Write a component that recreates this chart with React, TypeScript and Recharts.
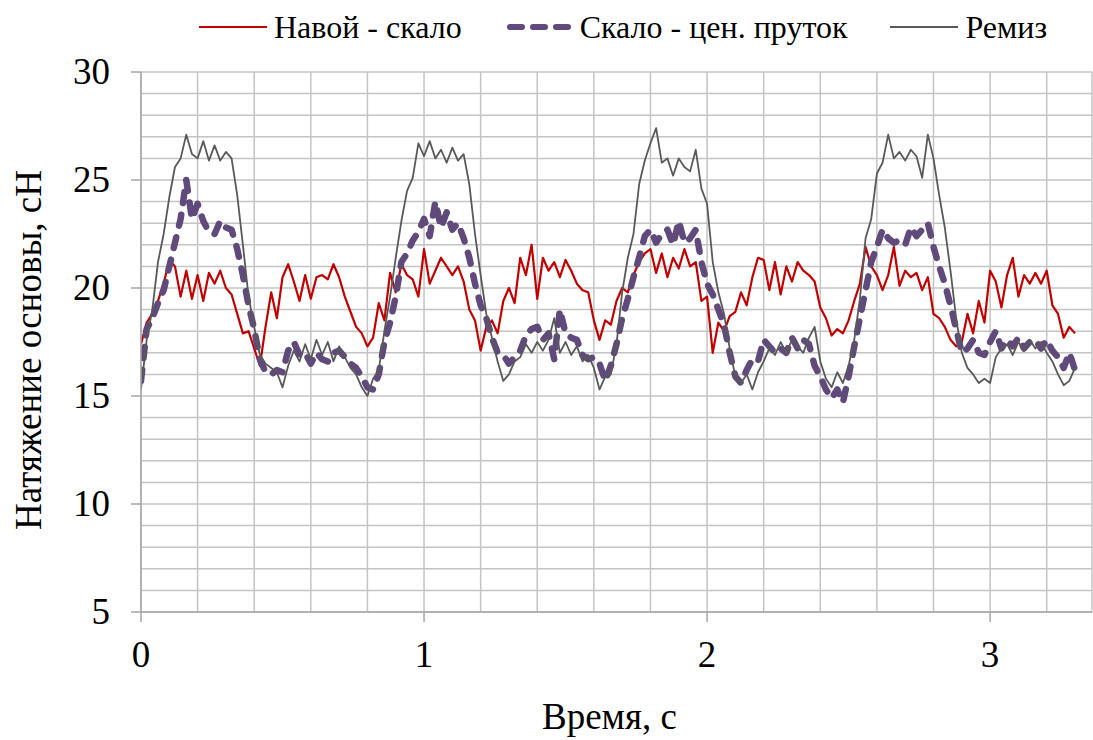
import React from 'react';
import { LineChart, Line, XAxis, YAxis, CartesianGrid } from 'recharts';

const TIME_STEP = 0.02;

const navoiSkalo = [
  17.4, 18.4, 18.8, 19.4, 20.2, 21.3, 21.0, 19.6, 20.8, 19.5,
  20.6, 19.4, 20.7, 20.2, 20.8, 20.0, 19.7, 18.8, 17.9, 18.0,
  17.2, 16.4, 18.2, 19.8, 18.6, 20.5, 21.1, 20.3, 19.4, 20.6,
  19.5, 20.5, 20.6, 20.4, 21.1, 20.5, 19.6, 18.9, 18.2, 17.9,
  17.3, 17.7, 19.3, 18.5, 20.7, 19.8, 21.1, 20.6, 20.4, 19.6,
  21.8, 20.2, 20.8, 21.4, 21.0, 20.6, 21.0, 20.3, 19.0, 18.5,
  17.1, 18.2, 18.5, 17.9, 19.4, 20.0, 19.3, 21.4, 20.6, 22.0,
  19.5, 21.4, 20.8, 21.2, 20.5, 21.3, 20.8, 20.2, 19.9, 19.8,
  18.5, 17.6, 18.5, 18.3, 19.4, 20.0, 19.8, 20.6, 21.2, 21.6,
  21.8, 20.7, 21.6, 20.5, 21.4, 20.9, 21.8, 21.0, 21.2, 19.4,
  19.6, 17.0, 18.4, 18.0, 18.7, 18.9, 19.8, 19.2, 20.5, 21.4,
  21.3, 19.9, 21.2, 19.7, 21.0, 20.3, 21.2, 20.8, 20.6, 20.3,
  19.1, 18.6, 17.8, 18.1, 17.9, 18.5, 19.4, 20.2, 21.9, 21.0,
  20.6, 19.9, 20.6, 21.9, 20.1, 20.8, 20.5, 20.7, 19.9, 20.5,
  18.8, 18.6, 18.2, 17.6, 17.3, 17.5, 18.8, 17.9, 19.4, 18.4,
  20.8, 20.3, 19.1, 20.6, 21.4, 19.6, 20.6, 20.2, 20.7, 20.2,
  20.8, 19.2, 18.8, 17.7, 18.2, 17.9,
];

const skaloPrutok = [
  15.7, 18.1, 18.6, 19.3, 19.9, 21.0, 22.1, 23.2, 25.0, 23.2,
  23.9, 23.1, 22.6, 22.5, 23.1, 22.8, 22.7, 21.8, 20.6, 19.2,
  18.1, 16.7, 16.1, 16.0, 16.2, 16.1, 17.1, 17.5, 16.9, 17.0,
  16.5, 17.0, 16.7, 16.6, 17.0, 17.1, 16.8, 16.5, 16.3, 15.9,
  15.4, 15.3, 16.0, 17.5, 18.4, 19.6, 21.2, 21.6, 22.2, 22.6,
  23.2, 22.4, 24.0, 22.8, 23.5, 22.7, 23.0, 22.3, 21.4, 20.2,
  19.2, 18.6, 17.7, 17.0, 16.9, 16.5, 16.8, 17.1, 17.8, 18.1,
  18.2, 17.6, 17.9, 16.7, 19.0, 17.9, 17.7, 17.6, 16.9, 16.7,
  16.8, 16.5, 15.7, 16.4, 17.4, 18.6, 19.5, 20.5, 21.4, 22.4,
  22.7, 22.1, 22.5, 22.7, 22.0, 23.1, 22.1, 22.3, 22.7, 21.2,
  20.2, 19.7, 19.0, 18.3, 17.0, 15.9, 15.6, 16.2, 16.7, 16.6,
  17.6, 17.3, 17.0, 17.2, 17.0, 17.7, 17.2, 17.6, 17.4, 16.4,
  15.9, 15.3, 14.9, 15.3, 14.7, 15.9, 17.3, 18.6, 19.9, 21.2,
  21.9, 22.7, 22.3, 22.1, 22.2, 22.0, 22.8, 22.4, 22.7, 23.0,
  21.9, 21.0, 20.2, 19.2, 18.1, 17.0, 17.2, 17.6, 17.0, 16.9,
  17.5, 18.0, 17.2, 17.6, 17.3, 17.7, 17.2, 17.5, 17.6, 17.2,
  17.6, 17.1, 16.8, 16.3, 17.0, 16.2,
];

const remiz = [
  15.3, 17.6, 19.0, 21.2, 22.5, 24.2, 25.6, 26.0, 27.1, 26.2,
  26.0, 26.8, 25.9, 26.6, 25.9, 26.3, 26.0, 24.3, 22.0, 19.6,
  18.2, 16.9, 16.5, 16.3, 16.1, 15.4, 16.4, 17.1, 16.6, 17.4,
  16.7, 17.6, 16.9, 17.5, 16.6, 17.3, 16.8, 16.3, 16.0, 15.4,
  15.0, 15.8, 16.2, 18.0, 19.6, 21.4, 23.1, 24.5, 25.1, 26.7,
  26.1, 26.8, 26.0, 26.4, 25.8, 26.5, 25.9, 26.2, 24.8, 22.5,
  20.6, 18.8, 17.7, 16.6, 15.7, 16.0, 16.6, 16.8, 17.4, 17.0,
  17.5, 17.1, 17.6, 18.6, 17.0, 17.5, 16.9, 17.3, 16.6, 16.9,
  16.3, 15.3, 15.9, 16.0, 17.4, 19.8, 21.4, 22.5, 24.8, 25.9,
  26.7, 27.4, 25.8, 26.0, 25.2, 26.0, 25.6, 25.4, 26.4, 24.6,
  23.9, 21.2, 19.8, 18.8, 17.2, 15.9, 15.6, 16.0, 15.3, 16.1,
  16.6, 17.2, 16.9, 17.5, 17.0, 17.6, 17.3, 17.0, 17.7, 18.2,
  16.6, 15.8, 15.4, 16.1, 15.6, 16.4, 17.6, 19.5, 22.3, 23.2,
  25.3, 25.8, 27.1, 26.0, 26.3, 25.9, 26.4, 26.1, 25.1, 27.1,
  26.0, 24.3, 22.8, 20.8, 18.6, 17.0, 16.3, 16.0, 15.6, 15.8,
  15.6, 16.8, 17.2, 17.4, 16.9, 17.5, 17.1, 17.6, 17.2, 17.5,
  17.0, 16.6, 16.0, 15.5, 15.7, 16.3,
];

const X_TICKS = [0, 0.2, 0.4, 0.6, 0.8, 1, 1.2, 1.4, 1.6, 1.8, 2, 2.2, 2.4, 2.6, 2.8, 3, 3.2];
const X_LABELS = [0, 1, 2, 3];
const X_DOMAIN = [0, 3.36];
const Y_TICKS = [5, 6, 7, 8, 9, 10, 11, 12, 13, 14, 15, 16, 17, 18, 19, 20, 21, 22, 23, 24, 25, 26, 27, 28, 29, 30];
const Y_LABELS = [5, 10, 15, 20, 25, 30];

const SERIES = [
  { key: 'navoi', name: 'Навой - скало', color: '#C00000', width: 2.2, dash: undefined as string | undefined },
  { key: 'skalo', name: 'Скало - цен. пруток', color: '#604A7B', width: 6.5, dash: '11 12' },
  { key: 'remiz', name: 'Ремиз', color: '#595959', width: 1.8, dash: undefined as string | undefined },
];

const data = remiz.map((_, i) => ({
  t: Math.round(i * TIME_STEP * 100) / 100,
  navoi: navoiSkalo[i],
  skalo: skaloPrutok[i],
  remiz: remiz[i],
}));

const FONT = '"Liberation Serif", "Times New Roman", serif';
const GRID = '#c4c4c4';
const AXIS = '#a6a6a6';
const TICK_FONT = 37;
const TITLE_FONT = 37;
const LEGEND_FONT = 32;

const isLabel = (list: number[], v: number) => list.some((l) => Math.abs(l - v) < 1e-6);

const XTick = (props: any) => {
  const { x, y, payload } = props;
  const v = payload.value;
  if (!isLabel(X_LABELS, v)) return <g />;
  return (
    <g>
      <line x1={x} x2={x} y1={y} y2={y + 10} stroke={AXIS} strokeWidth={1.5} />
      <text x={x} y={y + 55} textAnchor="middle" fontSize={TICK_FONT} fontFamily={FONT} fill="#000">
        {v}
      </text>
    </g>
  );
};

const YTick = (props: any) => {
  const { x, y, payload } = props;
  const v = payload.value;
  if (!isLabel(Y_LABELS, v)) return <g />;
  return (
    <g>
      <line x1={x - 10} x2={x} y1={y} y2={y} stroke={AXIS} strokeWidth={1.5} />
      <text x={x - 31} y={y + 12} textAnchor="end" fontSize={TICK_FONT} fontFamily={FONT} fill="#000">
        {v}
      </text>
    </g>
  );
};

const XTitle = (props: any) => {
  const vb = props.viewBox || {};
  const cx = vb.x + vb.width / 2 - 7;
  return (
    <text x={cx} y={vb.y + 117} textAnchor="middle" fontSize={TITLE_FONT} fontFamily={FONT} fill="#000">
      Время, с
    </text>
  );
};

const YTitle = (props: any) => {
  const vb = props.viewBox || {};
  const cx = vb.x + 41;
  const cy = vb.y + vb.height / 2 + 8;
  return (
    <text
      x={cx}
      y={cy}
      textAnchor="middle"
      fontSize={TITLE_FONT}
      fontFamily={FONT}
      fill="#000"
      transform={`rotate(-90, ${cx}, ${cy})`}
    >
      Натяжение основы, сН
    </text>
  );
};

const LegendBar = () => (
  <div
    style={{
      position: 'absolute',
      left: 199,
      top: 7,
      height: 40,
      display: 'flex',
      alignItems: 'center',
      fontFamily: FONT,
      fontSize: LEGEND_FONT,
      color: '#000',
      whiteSpace: 'nowrap',
    }}
  >
    {SERIES.map((s, i) => (
      <div key={s.key} style={{ display: 'flex', alignItems: 'center', marginLeft: i === 0 ? 0 : 43 }}>
        <svg width={68} height={14} style={{ marginRight: 7 }}>
          <line
            x1={s.dash ? 5 : 0}
            x2={s.dash ? 63 : 68}
            y1={7}
            y2={7}
            stroke={s.color}
            strokeWidth={s.dash ? 6 : s.width}
            strokeDasharray={s.dash ? '12 11' : undefined}
            strokeLinecap={s.dash ? 'round' : 'butt'}
          />
        </svg>
        <span>{s.name}</span>
      </div>
    ))}
  </div>
);

export default function App() {
  return (
    <div style={{ position: 'absolute', left: 0, top: 0, width: 1093, height: 740, background: '#fff' }}>
      <LineChart width={1093} height={740} data={data} margin={{ top: 72, right: 1, bottom: 0, left: 0 }}>
        <CartesianGrid stroke={GRID} strokeWidth={1.5} />
        <XAxis
          dataKey="t"
          type="number"
          domain={X_DOMAIN}
          ticks={X_TICKS}
          interval={0}
          tick={<XTick />}
          tickLine={false}
          tickSize={0}
          tickMargin={0}
          axisLine={{ stroke: AXIS, strokeWidth: 1.5 }}
          height={128}
          allowDataOverflow
          label={<XTitle />}
        />
        <YAxis
          type="number"
          domain={[5, 30]}
          ticks={Y_TICKS}
          interval={0}
          tick={<YTick />}
          tickLine={false}
          tickSize={0}
          tickMargin={0}
          axisLine={{ stroke: AXIS, strokeWidth: 1.5 }}
          width={141}
          allowDataOverflow
          label={<YTitle />}
        />
        {SERIES.map((s) => (
          <Line
            key={s.key}
            type="linear"
            dataKey={s.key}
            name={s.name}
            stroke={s.color}
            strokeWidth={s.width}
            strokeDasharray={s.dash}
            strokeLinecap={s.dash ? 'round' : 'butt'}
            strokeLinejoin="round"
            dot={false}
            activeDot={false}
            isAnimationActive={false}
          />
        ))}
      </LineChart>
      <LegendBar />
    </div>
  );
}
